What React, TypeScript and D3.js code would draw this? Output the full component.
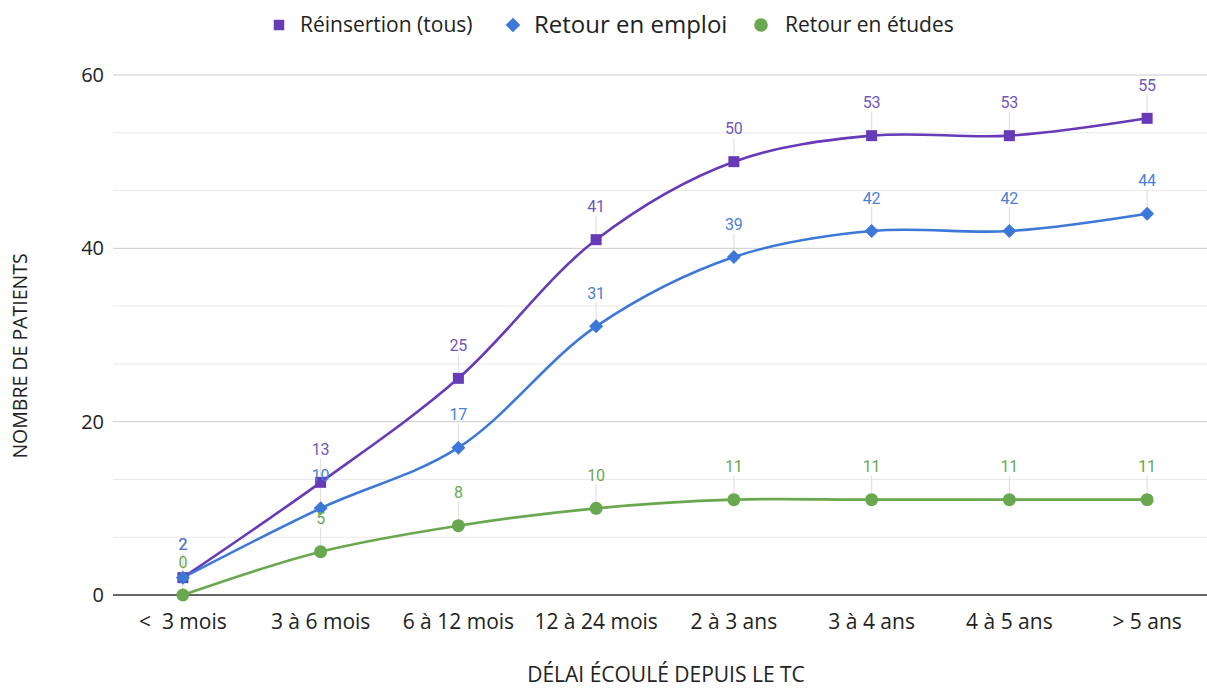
import React from "react";
import * as d3 from "d3";

const categories = ["<  3 mois", "3 à 6 mois", "6 à 12 mois", "12 à 24 mois", "2 à 3 ans", "3 à 4 ans", "4 à 5 ans", "> 5 ans"];
const reinsertion = [2, 13, 25, 41, 50, 53, 53, 55];
const emploi = [2, 10, 17, 31, 39, 42, 42, 44];
const etudes = [0, 5, 8, 10, 11, 11, 11, 11];
const majorTicks = [0, 20, 40, 60];
const gridTicks = [0, 20 / 3, 40 / 3, 20, 80 / 3, 100 / 3, 40, 140 / 3, 160 / 3, 60];

const W = 1207;
const H = 689;
const FONT = "'Open Sans', sans-serif";

const series = [
  { name: "Réinsertion (tous)", values: reinsertion, color: "#673ab7", label: "#6f58b8", shape: "square", legendSize: 21 },
  { name: "Retour en emploi", values: emploi, color: "#3c78d8", label: "#4a80d6", shape: "diamond", legendSize: 24 },
  { name: "Retour en études", values: etudes, color: "#6aa84f", label: "#6aa84f", shape: "circle", legendSize: 21 },
];

function Marker({ shape, x, y, color, s = 1 }: { shape: string; x: number; y: number; color: string; s?: number }) {
  if (shape === "square") return <rect x={x - 5.5 * s} y={y - 5.5 * s} width={11 * s} height={11 * s} fill={color} />;
  if (shape === "diamond") {
    const r = 7 * s;
    return <path d={`M${x},${y - r}L${x + r},${y}L${x},${y + r}L${x - r},${y}Z`} fill={color} />;
  }
  return <circle cx={x} cy={y} r={6.5 * s} fill={color} />;
}

export default function App() {
  const x = d3.scaleBand<string>().domain(categories).range([114, 1216]);
  const y = d3.scaleLinear().domain([0, 60]).range([595, 75]);
  const cx = (c: string) => (x(c) as number) + x.bandwidth() / 2;
  const line = d3
    .line<number>()
    .x((_, i) => cx(categories[i]))
    .y((v) => y(v))
    .curve(d3.curveCatmullRom.alpha(0.5));

  const legendItems = [
    { mx: 279, tx: 300 },
    { mx: 513, tx: 534 },
    { mx: 761, tx: 785 },
  ];

  return (
    <div style={{ position: "absolute", left: 0, top: 0 }}>
      <svg width={W} height={H} style={{ display: "block", background: "#fff" }}>
        {/* gridlines */}
        {gridTicks.map((t, i) => {
          const major = majorTicks.some((m) => Math.abs(m - t) < 1e-6);
          if (t === 0) return null;
          return (
            <line key={i} x1={113} x2={W} y1={y(t)} y2={y(t)} stroke={major ? "#cccccc" : "#e8e8e8"} strokeWidth={1} />
          );
        })}
        {/* y tick labels */}
        {majorTicks.map((t) => (
          <text key={t} x={104} y={y(t)} dy="0.35em" textAnchor="end" fontFamily={FONT} fontSize={20} fill="#222">
            {t}
          </text>
        ))}
        {/* y title */}
        <text
          transform={`translate(27,${356}) rotate(-90)`}
          textAnchor="middle"
          fontFamily={FONT}
          fontSize={19.5}
          fill="#222"
        >
          NOMBRE DE PATIENTS
        </text>
        {/* x tick labels */}
        {categories.map((c) => (
          <text key={c} x={cx(c)} y={629} textAnchor="middle" fontFamily={FONT} fontSize={21} fill="#222" style={{ whiteSpace: "pre" }}>
            {c}
          </text>
        ))}
        {/* x title */}
        <text x={666} y={682} textAnchor="middle" fontFamily={FONT} fontSize={21} fill="#222">
          DÉLAI ÉCOULÉ DEPUIS LE TC
        </text>
        {/* stems */}
        {series.map((s) =>
          s.values.map((v, i) => (
            <line
              key={s.name + i}
              x1={cx(categories[i])}
              x2={cx(categories[i])}
              y1={y(v) - 6}
              y2={y(v) - 24}
              stroke="#dddddd"
              strokeWidth={1}
            />
          ))
        )}
        {/* lines */}
        {series.map((s) => (
          <path key={s.name} d={line(s.values) || ""} fill="none" stroke={s.color} strokeWidth={2.6} />
        ))}
        {/* baseline */}
        <line x1={113} x2={W} y1={y(0)} y2={y(0)} stroke="#333" strokeWidth={1.3} />
        {/* markers */}
        {series.map((s) =>
          s.values.map((v, i) => <Marker key={s.name + i} shape={s.shape} x={cx(categories[i])} y={y(v)} color={s.color} />)
        )}
        {/* value labels */}
        {series.map((s) =>
          s.values.map((v, i) => (
            <text
              key={s.name + "l" + i}
              x={cx(categories[i])}
              y={y(v) - 33}
              dy="0.35em"
              textAnchor="middle"
              fontFamily="Roboto, sans-serif"
              fontSize={16}
              fill={s.label}
            >
              {v}
            </text>
          ))
        )}
        {/* legend */}
        {series.map((s, i) => (
          <g key={s.name}>
            <Marker shape={s.shape} x={legendItems[i].mx} y={25} color={s.color} s={s.shape === "square" ? 0.95 : 1.05} />
            <text x={legendItems[i].tx} y={25} dy="0.35em" fontFamily={FONT} fontSize={s.legendSize} fill="#222">
              {s.name}
            </text>
          </g>
        ))}
      </svg>
    </div>
  );
}
